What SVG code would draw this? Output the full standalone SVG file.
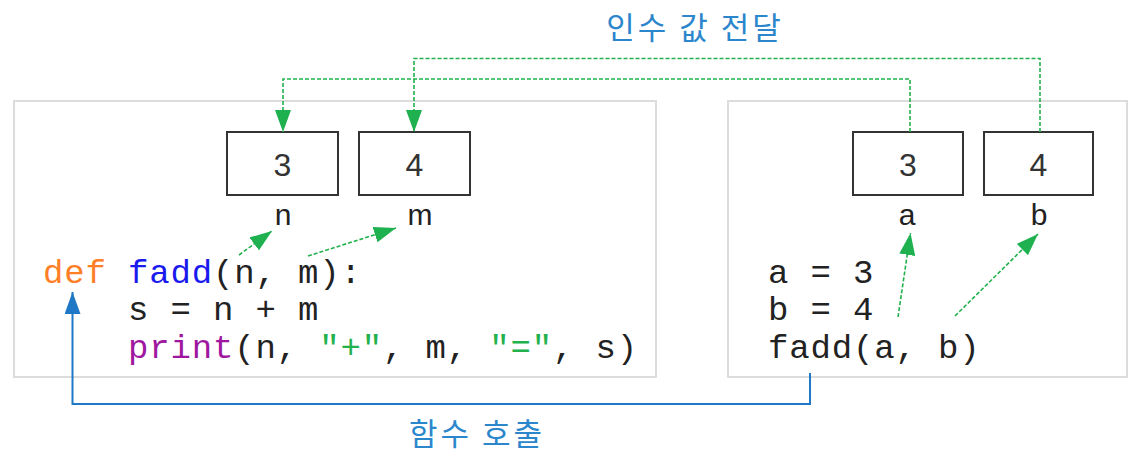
<svg xmlns="http://www.w3.org/2000/svg" width="1132" height="454" viewBox="0 0 1132 454">
<style>
.panel{fill:#fff;stroke:#dcdcdc;stroke-width:2}
.box{fill:#fff;stroke:#333;stroke-width:2}
.num{font-family:"Liberation Sans",Arial,sans-serif;font-size:32px;fill:#333;text-anchor:middle}
.lbl{font-family:"Liberation Sans",Arial,sans-serif;font-size:30px;fill:#222;text-anchor:middle}
.code{font-family:"Liberation Mono","DejaVu Sans Mono",monospace;font-size:34px;letter-spacing:0.85px;fill:#222}
.kw{fill:#ff7f27}
.fn{fill:#1a1aee}
.bi{fill:#a0179f}
.str{fill:#22b14c}
.title{font-family:"Noto Sans CJK KR","Noto Sans",sans-serif;font-size:31px;letter-spacing:3px;fill:#2b86cc;text-anchor:middle}
.gdash{fill:none;stroke:#22b14c;stroke-width:1.6;stroke-dasharray:4 2}
.blue{fill:none;stroke:#2079c7;stroke-width:2}
</style>
<defs>
<marker id="ga" viewBox="0 0 22 16" refX="22" refY="8" markerWidth="22" markerHeight="16" markerUnits="userSpaceOnUse" orient="auto">
<path d="M0,0 L22,8 L0,16 z" fill="#1fb050"/>
</marker>
<marker id="ba" viewBox="0 0 22 16" refX="22" refY="8" markerWidth="22" markerHeight="16" markerUnits="userSpaceOnUse" orient="auto">
<path d="M0,0 L22,8 L0,16 z" fill="#1e78c6"/>
</marker>
</defs>

<g id="panel-left">
<rect class="panel" x="14" y="101" width="642" height="276"/>
</g>
<g id="panel-right">
<rect class="panel" x="728" y="101" width="399" height="276"/>
</g>

<g id="box-n">
<rect class="box" x="227" y="132" width="111" height="63"/>
<text class="num" x="282.5" y="176">3</text>
<text class="lbl" x="283" y="225">n</text>
</g>
<g id="box-m">
<rect class="box" x="359" y="132" width="111" height="63"/>
<text class="num" x="414.5" y="176">4</text>
<text class="lbl" x="420" y="225">m</text>
</g>
<g id="box-a">
<rect class="box" x="853" y="132" width="110" height="63"/>
<text class="num" x="908" y="176">3</text>
<text class="lbl" x="907" y="225">a</text>
</g>
<g id="box-b">
<rect class="box" x="984" y="132" width="109" height="63"/>
<text class="num" x="1038.5" y="176">4</text>
<text class="lbl" x="1039" y="225">b</text>
</g>

<g id="code-left">
<text class="code" x="43" y="283"><tspan class="kw">def</tspan> <tspan class="fn">fadd</tspan>(n, m):</text>
<text class="code" x="128" y="320">s = n + m</text>
<text class="code" x="128" y="357.5"><tspan class="bi">print</tspan>(n, <tspan class="str">"+"</tspan>, m, <tspan class="str">"="</tspan>, s)</text>
</g>
<g id="code-right">
<text class="code" x="768" y="283">a = 3</text>
<text class="code" x="768" y="320">b = 4</text>
<text class="code" x="768" y="357.5">fadd(a, b)</text>
</g>

<g id="title-pass">
<text class="title" x="695" y="39">인수 값 전달</text>
</g>
<g id="title-call">
<text class="title" x="477" y="445">함수 호출</text>
</g>

<g id="connectors">
<path class="gdash" d="M910,132 V79 H283 V132" marker-end="url(#ga)"/>
<path class="gdash" d="M1040,132 V58.5 H414 V132" marker-end="url(#ga)"/>
<path class="gdash" d="M239,255 L272,231" marker-end="url(#ga)"/>
<path class="gdash" d="M308,256 L396,228" marker-end="url(#ga)"/>
<path class="gdash" d="M898,317 L910.5,233" marker-end="url(#ga)"/>
<path class="gdash" d="M955,316 L1038,234" marker-end="url(#ga)"/>
<path class="blue" d="M810,373 V404 H72.5 V292" marker-end="url(#ba)"/>
</g>
</svg>
